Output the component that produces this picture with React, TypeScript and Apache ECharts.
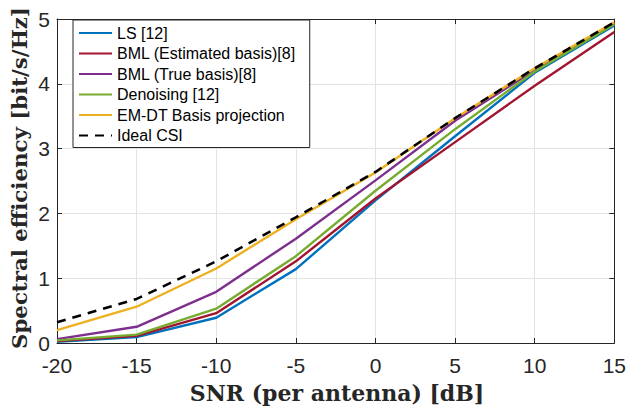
import React, { useEffect, useRef } from "react";
import * as echarts from "echarts";

const snr = [-20, -15, -10, -5, 0, 5, 10, 15];
const lsVals = [0.02, 0.09, 0.39, 1.14, 2.2, 3.19, 4.17, 4.9];
const bmlEstVals = [0.03, 0.11, 0.46, 1.26, 2.23, 3.1, 3.97, 4.8];
const bmlTrueVals = [0.06, 0.25, 0.79, 1.61, 2.51, 3.43, 4.21, 4.93];
const denoisingVals = [0.04, 0.13, 0.53, 1.34, 2.35, 3.3, 4.19, 4.92];
const emdtVals = [0.2, 0.56, 1.15, 1.91, 2.63, 3.47, 4.24, 4.95];
const idealVals = [0.32, 0.68, 1.26, 1.94, 2.64, 3.47, 4.24, 4.95];

const seriesNames = [
  "LS [12]",
  "BML (Estimated basis)[8]",
  "BML (True basis)[8]",
  "Denoising [12]",
  "EM-DT Basis projection",
  "Ideal CSI",
];
const seriesColors = ["#0072BD", "#A2142F", "#7E2F8E", "#77AC30", "#EDB120", "#000000"];
const xTitle = "SNR (per antenna) [dB]";
const yTitle = "Spectral efficiency [bit/s/Hz]";

export default function App() {
  const ref = useRef<HTMLDivElement>(null);
  useEffect(() => {
    if (!ref.current) return;
    const chart = echarts.init(ref.current, undefined, { renderer: "svg" });
    const allVals = [lsVals, bmlEstVals, bmlTrueVals, denoisingVals, emdtVals, idealVals];
    const axisLine = { show: true, onZero: false, lineStyle: { color: "#262626", width: 1 } };
    const tick = { show: true, inside: true, length: 5, lineStyle: { color: "#262626" } };
    const tickFont = { fontFamily: "Liberation Sans", fontSize: 21, color: "#262626" };
    chart.setOption({
      animation: false,
      backgroundColor: "#ffffff",
      grid: { left: 57, right: 12, top: 19, bottom: 66 },
      legend: {
        orient: "vertical",
        left: 73,
        top: 20,
        data: seriesNames,
        backgroundColor: "#ffffff",
        borderColor: "#262626",
        borderWidth: 1,
        borderRadius: 0,
        padding: [5, 14, 4, 5],
        itemWidth: 33,
        itemHeight: 14,
        itemGap: 4.5,
        itemStyle: { opacity: 0 },
        textStyle: { fontFamily: "Liberation Sans", fontSize: 16, lineHeight: 14, color: "#000" },
      },
      xAxis: [
        {
          type: "value",
          min: -20,
          max: 15,
          interval: 5,
          axisLine,
          axisTick: tick,
          axisLabel: { ...tickFont, margin: 12 },
          splitLine: { show: true, lineStyle: { color: "#e3e3e3", width: 1 } },
        },
        {
          type: "value",
          position: "top",
          min: -20,
          max: 15,
          interval: 5,
          axisLine,
          axisTick: tick,
          axisLabel: { show: false },
          splitLine: { show: false },
        },
      ],
      yAxis: [
        {
          type: "value",
          min: 0,
          max: 5,
          interval: 1,
          axisLine,
          axisTick: tick,
          axisLabel: { ...tickFont, margin: 7 },
          splitLine: { show: true, lineStyle: { color: "#e3e3e3", width: 1 } },
        },
        {
          type: "value",
          position: "right",
          min: 0,
          max: 5,
          interval: 1,
          axisLine,
          axisTick: tick,
          axisLabel: { show: false },
          splitLine: { show: false },
        },
      ],
      series: seriesNames.map((name, i) => ({
        name,
        type: "line",
        xAxisIndex: 0,
        yAxisIndex: 0,
        data: snr.map((x, j) => [x, allVals[i][j]]),
        symbol: "none",
        showSymbol: false,
        color: seriesColors[i],
        lineStyle: {
          color: seriesColors[i],
          width: i === 5 ? 2.5 : 2.4,
          type: i === 5 ? [9, 7] : "solid",
        },
        z: i === 5 ? 10 : 2 + i,
      })),
      graphic: [
        {
          type: "text",
          x: 337,
          y: 393,
          style: {
            text: xTitle,
            fontFamily: "DejaVu Serif",
            fontWeight: "bold",
            fontSize: 22,
            fill: "#262626",
            textAlign: "center",
            textVerticalAlign: "middle",
          },
        },
        {
          type: "text",
          x: 19,
          y: 178,
          rotation: Math.PI / 2,
          style: {
            text: yTitle,
            fontFamily: "DejaVu Serif",
            fontWeight: "bold",
            fontSize: 21.3,
            fill: "#262626",
            textAlign: "center",
            textVerticalAlign: "middle",
          },
        },
      ],
    });
    return () => chart.dispose();
  }, []);
  return (
    <div
      ref={ref}
      style={{ position: "absolute", left: 0, top: 0, width: 629, height: 409 }}
    />
  );
}
